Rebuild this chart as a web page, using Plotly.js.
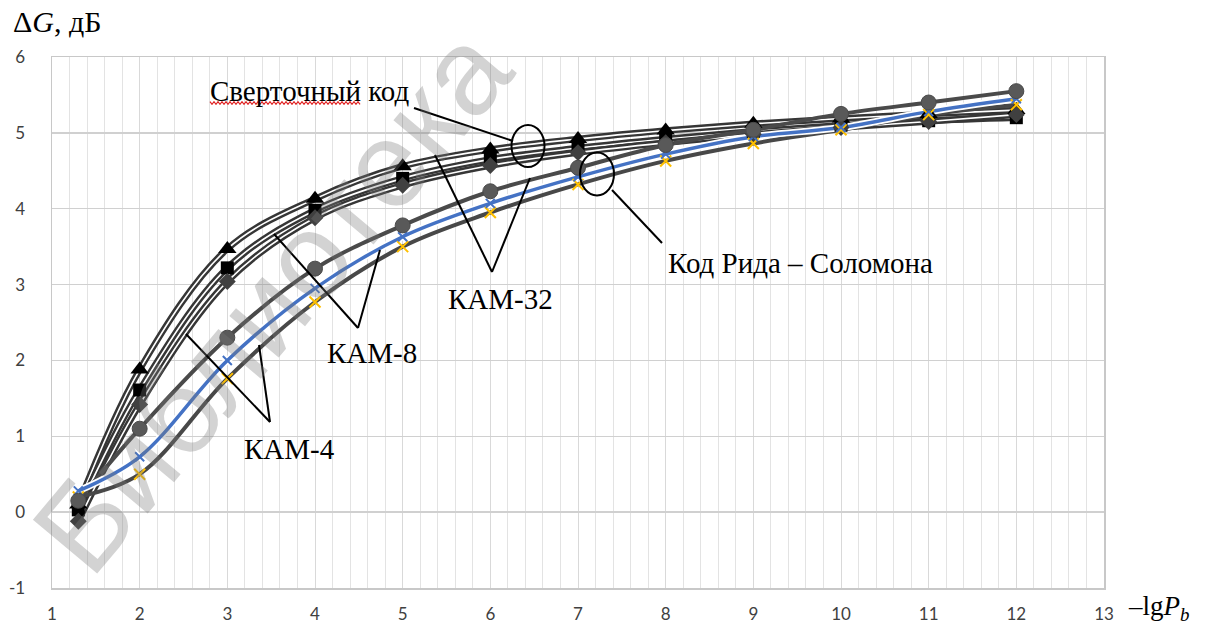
<!DOCTYPE html>
<html>
<head>
<meta charset="utf-8">
<script src="https://cdn.plot.ly/plotly-3.0.1.min.js"></script>
<style>html,body{margin:0;padding:0;background:#fff;}#chart{width:1216px;height:627px;}</style>
</head>
<body>
<div id="chart"></div>
<script>
// ---- data ----
const xVals = [1.3, 2, 3, 4, 5, 6, 7, 8, 9, 10, 11, 12];
const convTriangle = [0.10, 1.88, 3.47, 4.13, 4.56, 4.78, 4.92, 5.03, 5.12, 5.19, 5.25, 5.30];
const convSquare   = [0.03, 1.61, 3.22, 3.98, 4.40, 4.65, 4.80, 4.92, 5.02, 5.10, 5.16, 5.20];
const convDiamond  = [-0.12, 1.42, 3.04, 3.88, 4.31, 4.57, 4.74, 4.87, 4.98, 5.07, 5.15, 5.24];
const rsCircle     = [0.15, 1.10, 2.30, 3.21, 3.78, 4.23, 4.54, 4.84, 5.04, 5.25, 5.40, 5.55];
const rsBlue       = [0.28, 0.73, 2.00, 2.95, 3.63, 4.07, 4.42, 4.72, 4.95, 5.07, 5.28, 5.45];
const rsYellow     = [0.20, 0.50, 1.76, 2.77, 3.50, 3.95, 4.32, 4.63, 4.86, 5.04, 5.24, 5.37];
const xTickVals = [1,2,3,4,5,6,7,8,9,10,11,12,13];
const yTickVals = [-1,0,1,2,3,4,5,6];

// ---- layout helpers (pixel -> paper) ----
const L = 52, R = 1104, T = 57, B = 588;
const px = v => (v - L) / (R - L);
const py = v => (B - v) / (B - T);

const traces = [];
function lineTrace(y, color, width) {
  traces.push({x: xVals, y: y, mode: 'lines', type: 'scatter', hoverinfo: 'skip',
    line: {color: color, width: width, shape: 'spline', smoothing: 1}, showlegend: false});
}
function markerTrace(y, symbol, size, color, lineColor, lineWidth) {
  traces.push({x: xVals, y: y, mode: 'markers', type: 'scatter', hoverinfo: 'skip', showlegend: false,
    marker: {symbol: symbol, size: size, color: color, line: {color: lineColor, width: lineWidth}}});
}
// upper group: double lines
[convTriangle, convSquare, convDiamond].forEach(s => { lineTrace(s, '#363636', 6.5); lineTrace(s, '#ffffff', 1.6); });
// lower group
lineTrace(rsCircle, '#4a4a4a', 4);
lineTrace(rsYellow, '#484848', 4);
lineTrace(rsBlue, '#ffffff', 7);
lineTrace(rsBlue, '#4472C4', 3.5);
// markers
markerTrace(convTriangle, 'triangle-up', 16, '#000000', '#000000', 0);
markerTrace(convSquare, 'square', 13, '#000000', '#000000', 0);
markerTrace(convDiamond, 'diamond', 13, '#404040', '#404040', 0);
markerTrace(rsYellow, 'x-thin-open', 11, '#FFC000', '#FFC000', 2);
markerTrace(rsBlue, 'x-thin-open', 9, '#4472C4', '#4472C4', 2);
markerTrace(rsCircle, 'circle', 15, '#595959', '#4a4a4a', 1);

// ---- shapes: callouts ----
const shapes = [];
function seg(x0, y0, x1, y1) {
  shapes.push({type: 'line', xref: 'paper', yref: 'paper', x0: px(x0), y0: py(y0), x1: px(x1), y1: py(y1),
    line: {color: '#000000', width: 2}});
}
function ell(cx, cy, rx, ry) {
  shapes.push({type: 'circle', xref: 'paper', yref: 'paper', x0: px(cx - rx), x1: px(cx + rx), y0: py(cy + ry), y1: py(cy - ry),
    line: {color: '#000000', width: 2}});
}
seg(414, 108, 513, 141);
ell(528, 146, 16.5, 21);
ell(597, 174, 17, 21.5);
seg(612, 190, 662, 243);
seg(435, 155, 492, 272); seg(492, 272, 530, 178);
seg(274, 234, 358, 328); seg(358, 328, 380, 250);
seg(186, 334, 270, 422); seg(270, 422, 259, 345);
// red wavy spell-check underline
let path = '';
for (let xx = 210, i = 0; xx <= 360; xx += 2, i++) {
  const yy = 103 + (i % 2 === 0 ? -1.3 : 1.3);
  path += (i === 0 ? 'M ' : ' L ') + px(xx).toFixed(5) + ',' + py(yy).toFixed(5);
}
shapes.push({type: 'path', xref: 'paper', yref: 'paper', path: path, line: {color: '#e02020', width: 1.2}});

// ---- annotations ----
const serif = {family: 'Liberation Serif', size: 29, color: '#000000'};
function txt(text, cx, cy, font, anchor) {
  return {text: text, xref: 'paper', yref: 'paper', x: px(cx), y: py(cy), xanchor: anchor || 'center', yanchor: 'middle',
    showarrow: false, font: font || serif};
}
const annotations = [
  {text: 'Библиотека', xref: 'paper', yref: 'paper', x: px(272), y: py(300), xanchor: 'center', yanchor: 'middle',
   showarrow: false, textangle: -50, font: {family: 'Liberation Sans', size: 122, color: 'rgba(120,120,120,0.33)'}},
  txt('Сверточный код', 310, 91),
  txt('КАМ-32', 500, 299),
  txt('КАМ-8', 372, 353),
  txt('КАМ-4', 289, 449),
  txt('Код Рида – Соломона', 800, 263),
  txt('Δ<i>G</i>, дБ', 11, 22, {family: 'Liberation Serif', size: 30, color: '#000000'}, 'left'),
  txt('–lg<i>P</i><sub><i>b</i></sub>', 1126, 608, {family: 'Liberation Serif', size: 27, color: '#000000'}, 'left')
];

const tickFont = {family: 'Lato', size: 17, color: '#404040'};
const layout = {
  width: 1216, height: 627,
  margin: {l: L, r: 1216 - R, t: T, b: 627 - B, pad: 0},
  paper_bgcolor: '#ffffff', plot_bgcolor: '#ffffff',
  showlegend: false,
  xaxis: {range: [1, 13], tickmode: 'array', tickvals: xTickVals, ticktext: xTickVals.map(String),
    showgrid: true, gridcolor: '#d9d9d9', gridwidth: 1,
    minor: {dtick: 0.2, showgrid: true, gridcolor: '#e3e3e3', gridwidth: 1},
    zeroline: false, showline: true, linecolor: '#c8c8c8', linewidth: 1.5, mirror: true,
    ticks: '', ticklabelstandoff: 10, tickfont: tickFont, fixedrange: true},
  yaxis: {range: [-1, 6], tickmode: 'array', tickvals: yTickVals, ticktext: yTickVals.map(String),
    showgrid: true, gridcolor: '#d0d0d0', gridwidth: 1.5,
    zeroline: false, showline: true, linecolor: '#c8c8c8', linewidth: 1.5, mirror: true,
    ticks: '', ticklabelstandoff: 22, tickfont: tickFont, fixedrange: true},
  shapes: shapes,
  annotations: annotations
};
Plotly.newPlot('chart', traces, layout, {staticPlot: true, displayModeBar: false});
</script>
</body>
</html>
